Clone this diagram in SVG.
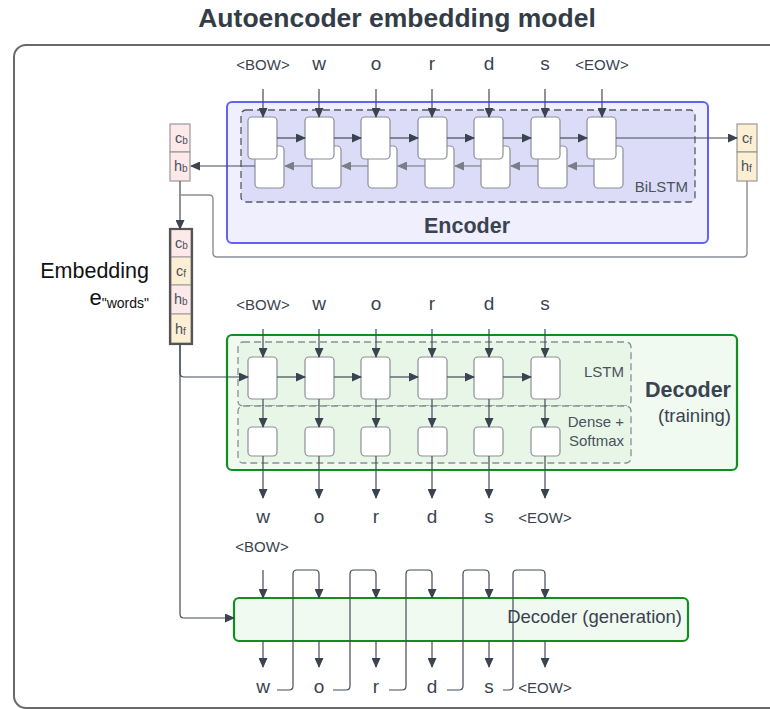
<svg xmlns="http://www.w3.org/2000/svg" width="770" height="709" viewBox="0 0 770 709">
<defs>
<style>
text{font-family:"Liberation Sans",Arial,sans-serif;fill:#3a4350}
.t{font-size:15px}
.l{font-size:19px}
.sm{font-size:15px;fill:#4a525d}
.big{font-size:21.5px;font-weight:bold}
.cell{fill:#fff;stroke:#8a8f96;stroke-width:1.2}
.dash{stroke:#555a62;stroke-width:1.3;stroke-dasharray:7,4}
.dashg{stroke:#8a8f96;stroke-width:1.3;stroke-dasharray:7,4;fill:#e8f6e8}
.c{fill:none;stroke:#454c56;stroke-width:1.2}
.cg{fill:none;stroke:#8a8f96;stroke-width:1.4}
.v{font-size:14.5px;fill:#4a525d}
.pk{fill:#fde9e9;stroke:#9a9a9a;stroke-width:1.2}
.or{fill:#fdefd3;stroke:#9a9a9a;stroke-width:1.2}
</style>
<marker id="a" markerUnits="userSpaceOnUse" markerWidth="10" markerHeight="9" refX="9" refY="4.5" orient="auto"><path d="M0,0 L10,4.5 L0,9 z" fill="#3a4350"/></marker>
<marker id="ag" markerUnits="userSpaceOnUse" markerWidth="10" markerHeight="9" refX="9" refY="4.5" orient="auto"><path d="M0,0 L10,4.5 L0,9 z" fill="#7a7f86"/></marker>
</defs>
<rect width="770" height="709" fill="#fff"/>
<text x="397" y="27" text-anchor="middle" style="font-size:26.5px;font-weight:bold;fill:#333d47">Autoencoder embedding model</text>
<rect x="14" y="45" width="800" height="663" rx="12" fill="none" stroke="#6a6a6a" stroke-width="2"/>

<g id="encoder">
<rect x="227" y="102" width="481" height="141" rx="5" fill="#efeffd" stroke="#6262f5" stroke-width="2"/>
<rect class="dash" x="241" y="110" width="454" height="92" rx="5" fill="#dcdcf8"/>
<g id="enc-back">
<rect class="cell" x="255" y="146" width="29" height="42" rx="4"/>
<rect class="cell" x="312" y="146" width="29" height="42" rx="4"/>
<rect class="cell" x="368" y="146" width="29" height="42" rx="4"/>
<rect class="cell" x="425" y="146" width="29" height="42" rx="4"/>
<rect class="cell" x="481" y="146" width="29" height="42" rx="4"/>
<rect class="cell" x="538" y="146" width="29" height="42" rx="4"/>
<rect class="cell" x="594" y="146" width="29" height="42" rx="4"/>
</g>
<g id="enc-back-arrows">
<path class="cg" d="M312,166 H285" marker-end="url(#ag)"/>
<path class="cg" d="M368,166 H342" marker-end="url(#ag)"/>
<path class="cg" d="M425,166 H398" marker-end="url(#ag)"/>
<path class="cg" d="M481,166 H455" marker-end="url(#ag)"/>
<path class="cg" d="M538,166 H511" marker-end="url(#ag)"/>
<path class="cg" d="M594,166 H568" marker-end="url(#ag)"/>
</g>
<g id="enc-fwd">
<rect class="cell" x="248" y="117" width="29" height="42" rx="4"/>
<rect class="cell" x="305" y="117" width="29" height="42" rx="4"/>
<rect class="cell" x="361" y="117" width="29" height="42" rx="4"/>
<rect class="cell" x="418" y="117" width="29" height="42" rx="4"/>
<rect class="cell" x="474" y="117" width="29" height="42" rx="4"/>
<rect class="cell" x="531" y="117" width="29" height="42" rx="4"/>
<rect class="cell" x="587" y="117" width="29" height="42" rx="4"/>
</g>
<text x="688" y="192" text-anchor="end" class="sm">BiLSTM</text>
<text x="467" y="233" text-anchor="middle" class="big">Encoder</text>
</g>

<g id="enc-inputs">
<text x="263" y="70" text-anchor="middle" class="t">&lt;BOW&gt;</text>
<text x="319" y="70" text-anchor="middle" class="l">w</text>
<text x="376" y="70" text-anchor="middle" class="l">o</text>
<text x="432" y="70" text-anchor="middle" class="l">r</text>
<text x="489" y="70" text-anchor="middle" class="l">d</text>
<text x="545" y="70" text-anchor="middle" class="l">s</text>
<text x="602" y="70" text-anchor="middle" class="t">&lt;EOW&gt;</text>
</g>

<g id="cb-hb">
<rect class="pk" x="170" y="124" width="20" height="28"/>
<rect class="pk" x="170" y="152" width="20" height="29"/>
<text x="175" y="143" class="v">c<tspan font-size="10" dy="1">b</tspan></text>
<text x="174" y="171" class="v">h<tspan font-size="10" dy="1">b</tspan></text>
</g>
<g id="cf-hf">
<rect class="or" x="737" y="124" width="20" height="28"/>
<rect class="or" x="737" y="152" width="20" height="29"/>
<text x="742" y="143" class="v">c<tspan font-size="10" dy="1">f</tspan></text>
<text x="741" y="171" class="v">h<tspan font-size="10" dy="1">f</tspan></text>
</g>

<g id="embedding">
<rect x="171" y="229" width="20" height="28" fill="#fde9e9" stroke="#9a9a9a"/>
<rect x="171" y="257" width="20" height="28" fill="#fdefd3" stroke="#9a9a9a"/>
<rect x="171" y="285" width="20" height="29" fill="#fde9e9" stroke="#9a9a9a"/>
<rect x="171" y="314" width="20" height="29" fill="#fdefd3" stroke="#9a9a9a"/>
<rect x="170" y="229" width="22" height="115" fill="none" stroke="#555" stroke-width="2.2"/>
<text x="175" y="248" class="v">c<tspan font-size="10" dy="1">b</tspan></text>
<text x="176" y="276" class="v">c<tspan font-size="10" dy="1">f</tspan></text>
<text x="174" y="304" class="v">h<tspan font-size="10" dy="1">b</tspan></text>
<text x="175" y="334" class="v">h<tspan font-size="10" dy="1">f</tspan></text>
<text x="149" y="278" text-anchor="end" style="font-size:21.5px;fill:#111">Embedding</text>
<text x="149" y="305" text-anchor="end" style="font-size:22px;fill:#111">e<tspan font-size="14" dy="3">"words"</tspan></text>
</g>

<g id="decoder-training">
<rect x="227" y="335" width="510" height="135" rx="5" fill="#f0faf0" stroke="#0f8f1f" stroke-width="2.2"/>
<rect class="dashg" x="238" y="342" width="393" height="64" rx="5"/>
<rect class="dashg" x="238" y="406" width="393" height="57" rx="5"/>
<rect class="cell" x="248" y="357" width="29" height="42" rx="4"/>
<rect class="cell" x="305" y="357" width="29" height="42" rx="4"/>
<rect class="cell" x="361" y="357" width="29" height="42" rx="4"/>
<rect class="cell" x="418" y="357" width="29" height="42" rx="4"/>
<rect class="cell" x="474" y="357" width="29" height="42" rx="4"/>
<rect class="cell" x="531" y="357" width="29" height="42" rx="4"/>
<rect class="cell" x="248" y="427" width="29" height="29" rx="4"/>
<rect class="cell" x="305" y="427" width="29" height="29" rx="4"/>
<rect class="cell" x="361" y="427" width="29" height="29" rx="4"/>
<rect class="cell" x="418" y="427" width="29" height="29" rx="4"/>
<rect class="cell" x="474" y="427" width="29" height="29" rx="4"/>
<rect class="cell" x="531" y="427" width="29" height="29" rx="4"/>
<text x="624" y="377" text-anchor="end" class="sm">LSTM</text>
<text x="624" y="427" text-anchor="end" class="sm">Dense +</text>
<text x="624" y="446" text-anchor="end" class="sm">Softmax</text>
<text x="731" y="397" text-anchor="end" class="big">Decoder</text>
<text x="731" y="422" text-anchor="end" style="font-size:18.5px">(training)</text>
</g>

<g id="dec-inputs">
<text x="263" y="310" text-anchor="middle" class="t">&lt;BOW&gt;</text>
<text x="319" y="310" text-anchor="middle" class="l">w</text>
<text x="376" y="310" text-anchor="middle" class="l">o</text>
<text x="432" y="310" text-anchor="middle" class="l">r</text>
<text x="489" y="310" text-anchor="middle" class="l">d</text>
<text x="545" y="310" text-anchor="middle" class="l">s</text>
</g>
<g id="dec-outputs">
<text x="263" y="523" text-anchor="middle" class="l">w</text>
<text x="319" y="523" text-anchor="middle" class="l">o</text>
<text x="376" y="523" text-anchor="middle" class="l">r</text>
<text x="432" y="523" text-anchor="middle" class="l">d</text>
<text x="489" y="523" text-anchor="middle" class="l">s</text>
<text x="545" y="523" text-anchor="middle" class="t">&lt;EOW&gt;</text>
</g>

<g id="decoder-generation">
<rect x="234" y="598" width="454" height="43" rx="5" fill="#f0faf0" stroke="#0f8f1f" stroke-width="2.2"/>
<text x="682" y="623" text-anchor="end" style="font-size:18.5px">Decoder (generation)</text>
</g>
<g id="gen-labels">
<text x="262" y="552" text-anchor="middle" class="t">&lt;BOW&gt;</text>
<text x="263" y="693" text-anchor="middle" class="l">w</text>
<text x="319" y="693" text-anchor="middle" class="l">o</text>
<text x="376" y="693" text-anchor="middle" class="l">r</text>
<text x="432" y="693" text-anchor="middle" class="l">d</text>
<text x="489" y="693" text-anchor="middle" class="l">s</text>
<text x="545" y="693" text-anchor="middle" class="t">&lt;EOW&gt;</text>
</g>

<g id="connectors">
<path class="c" d="M263,89 V117" marker-end="url(#a)"/>
<path class="c" d="M319,89 V117" marker-end="url(#a)"/>
<path class="c" d="M376,89 V117" marker-end="url(#a)"/>
<path class="c" d="M432,89 V117" marker-end="url(#a)"/>
<path class="c" d="M489,89 V117" marker-end="url(#a)"/>
<path class="c" d="M545,89 V117" marker-end="url(#a)"/>
<path class="c" d="M602,89 V117" marker-end="url(#a)"/>
<path class="c" d="M277,138 H305" marker-end="url(#a)"/>
<path class="c" d="M334,138 H361" marker-end="url(#a)"/>
<path class="c" d="M390,138 H418" marker-end="url(#a)"/>
<path class="c" d="M447,138 H474" marker-end="url(#a)"/>
<path class="c" d="M503,138 H531" marker-end="url(#a)"/>
<path class="c" d="M560,138 H587" marker-end="url(#a)"/>
<path class="c" d="M616,138 H737" marker-end="url(#a)"/>
<path class="c" d="M255,166 H191" marker-end="url(#a)"/>
<path class="c" d="M180,181 V229" marker-end="url(#a)"/>
<path class="cg" d="M747,181 V253 Q747,257 743,257 H217 Q213,257 213,253 V199 Q213,195 209,195 H180"/>
<path class="c" d="M180,344 V373 Q180,377 184,377 H248" marker-end="url(#a)"/>
<path class="c" d="M180,344 V614 Q180,618 184,618 H234" marker-end="url(#a)"/>
<path class="c" d="M263,329 V357" marker-end="url(#a)"/>
<path class="c" d="M319,329 V357" marker-end="url(#a)"/>
<path class="c" d="M376,329 V357" marker-end="url(#a)"/>
<path class="c" d="M432,329 V357" marker-end="url(#a)"/>
<path class="c" d="M489,329 V357" marker-end="url(#a)"/>
<path class="c" d="M545,329 V357" marker-end="url(#a)"/>
<path class="c" d="M277,377 H305" marker-end="url(#a)"/>
<path class="c" d="M334,377 H361" marker-end="url(#a)"/>
<path class="c" d="M390,377 H418" marker-end="url(#a)"/>
<path class="c" d="M447,377 H474" marker-end="url(#a)"/>
<path class="c" d="M503,377 H531" marker-end="url(#a)"/>
<path class="c" d="M263,399 V427" marker-end="url(#a)"/>
<path class="c" d="M319,399 V427" marker-end="url(#a)"/>
<path class="c" d="M376,399 V427" marker-end="url(#a)"/>
<path class="c" d="M432,399 V427" marker-end="url(#a)"/>
<path class="c" d="M489,399 V427" marker-end="url(#a)"/>
<path class="c" d="M545,399 V427" marker-end="url(#a)"/>
<path class="c" d="M263,456 V498" marker-end="url(#a)"/>
<path class="c" d="M319,456 V498" marker-end="url(#a)"/>
<path class="c" d="M376,456 V498" marker-end="url(#a)"/>
<path class="c" d="M432,456 V498" marker-end="url(#a)"/>
<path class="c" d="M489,456 V498" marker-end="url(#a)"/>
<path class="c" d="M545,456 V498" marker-end="url(#a)"/>
<path class="c" d="M263,570 V598" marker-end="url(#a)"/>
<path class="c" d="M277,690 H289 Q293,690 293,686 V574 Q293,570 297,570 H315 Q319,570 319,574 V598" marker-end="url(#a)"/>
<path class="c" d="M333,690 H346 Q350,690 350,686 V574 Q350,570 354,570 H372 Q376,570 376,574 V598" marker-end="url(#a)"/>
<path class="c" d="M389,690 H402 Q406,690 406,686 V574 Q406,570 410,570 H428 Q432,570 432,574 V598" marker-end="url(#a)"/>
<path class="c" d="M447,690 H459 Q463,690 463,686 V574 Q463,570 467,570 H485 Q489,570 489,574 V598" marker-end="url(#a)"/>
<path class="c" d="M503,690 H509 Q513,690 513,686 V574 Q513,570 517,570 H541 Q545,570 545,574 V598" marker-end="url(#a)"/>
<path class="c" d="M263,641 V667" marker-end="url(#a)"/>
<path class="c" d="M319,641 V667" marker-end="url(#a)"/>
<path class="c" d="M376,641 V667" marker-end="url(#a)"/>
<path class="c" d="M432,641 V667" marker-end="url(#a)"/>
<path class="c" d="M489,641 V667" marker-end="url(#a)"/>
<path class="c" d="M545,641 V667" marker-end="url(#a)"/>
</g>
</svg>
